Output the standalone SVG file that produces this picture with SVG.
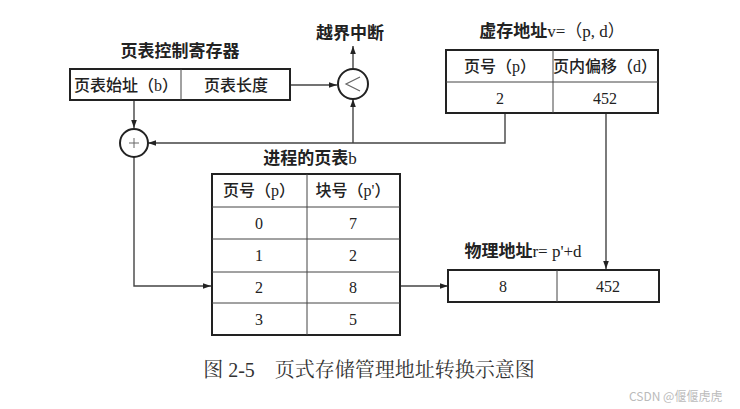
<svg xmlns="http://www.w3.org/2000/svg" width="740" height="409" viewBox="0 0 740 409">
<defs>
<marker id="ah" viewBox="0 0 10 10" refX="10" refY="5" markerWidth="8" markerHeight="8" markerUnits="userSpaceOnUse" orient="auto">
<path d="M0,1.5 L10,5 L0,8.5 Z" fill="#222"/>
</marker>
<style>
.box{fill:#fff;stroke:#222;stroke-width:2}
.in{stroke:#444;stroke-width:1;fill:none}
.cn{stroke:#444;stroke-width:1.4;fill:none}
.ci{fill:#fff;stroke:#222;stroke-width:2}
.t{font-family:"Liberation Serif","Noto Sans CJK SC",serif;font-size:16px;fill:#222;text-anchor:middle;font-weight:500}
.n{font-family:"Liberation Serif",serif;font-size:16px;fill:#222;text-anchor:middle}
.h{font-family:"Liberation Serif","Noto Sans CJK SC",serif;font-size:17px;fill:#222;text-anchor:middle;font-weight:bold}
.cap{font-family:"Liberation Serif","Noto Serif CJK SC","Noto Sans CJK SC",serif;font-size:20px;fill:#333;text-anchor:middle}
.wm{font-family:"Noto Sans CJK SC",sans-serif;font-size:12px;fill:#bbb}
</style>
</defs>
<rect width="740" height="409" fill="#fff"/>

<g id="connectors">
<path class="cn" d="M290,85 H337" marker-end="url(#ah)"/>
<path class="cn" d="M353,68 V46" marker-end="url(#ah)"/>
<path class="cn" d="M134,100 V128" marker-end="url(#ah)"/>
<path class="cn" d="M505,113 V143 H148" marker-end="url(#ah)"/>
<path class="cn" d="M353,143 V99" marker-end="url(#ah)"/>
<path class="cn" d="M134,157 V286 H211" marker-end="url(#ah)"/>
<path class="cn" d="M400,286 H448" marker-end="url(#ah)"/>
<path class="cn" d="M606,113 V269" marker-end="url(#ah)"/>
</g>

<g id="ptr">
<text class="h" x="180" y="57">页表控制寄存器</text>
<rect class="box" x="70" y="69" width="220" height="31"/>
<line class="in" x1="181" y1="69" x2="181" y2="100"/>
<text class="t" x="126" y="91">页表始址（b）</text>
<text class="t" x="236" y="91">页表长度</text>
</g>

<g id="compare">
<circle class="ci" cx="353" cy="84" r="15"/>
<path d="M360,77 L346,84 L360,91" fill="none" stroke="#666" stroke-width="1.2"/>
<text class="h" x="350" y="39">越界中断</text>
</g>

<g id="adder">
<circle class="ci" cx="134" cy="143" r="14"/>
<path d="M134,138 V148 M129,143 H139" stroke="#666" stroke-width="1"/>
</g>

<g id="vaddr">
<text class="h" x="552" y="37">虚存地址<tspan font-weight="normal">v=（p, d）</tspan></text>
<rect class="box" x="446" y="50" width="212" height="63"/>
<line class="in" x1="446" y1="82" x2="658" y2="82"/>
<line class="in" x1="553" y1="50" x2="553" y2="113"/>
<text class="t" x="500" y="72">页号（p）</text>
<text class="t" x="605" y="72">页内偏移（d）</text>
<text class="n" x="500" y="104">2</text>
<text class="n" x="605" y="104">452</text>
</g>

<g id="pagetable">
<text class="h" x="310" y="164">进程的页表<tspan font-weight="normal">b</tspan></text>
<rect class="box" x="212" y="174" width="188" height="161"/>
<line class="in" x1="307" y1="174" x2="307" y2="335"/>
<line class="in" x1="212" y1="207" x2="400" y2="207"/>
<line class="in" x1="212" y1="239" x2="400" y2="239"/>
<line class="in" x1="212" y1="272" x2="400" y2="272"/>
<line class="in" x1="212" y1="303" x2="400" y2="303"/>
<text class="t" x="259" y="196">页号（p）</text>
<text class="t" x="353" y="196">块号（p'）</text>
<text class="n" x="259" y="229">0</text><text class="n" x="353" y="229">7</text>
<text class="n" x="259" y="261">1</text><text class="n" x="353" y="261">2</text>
<text class="n" x="259" y="293">2</text><text class="n" x="353" y="293">8</text>
<text class="n" x="259" y="325">3</text><text class="n" x="353" y="325">5</text>
</g>

<g id="paddr">
<text class="h" x="523" y="257">物理地址<tspan font-weight="normal">r= p'+d</tspan></text>
<rect class="box" x="448" y="270" width="211" height="32"/>
<line class="in" x1="557" y1="270" x2="557" y2="302"/>
<text class="n" x="503" y="292">8</text>
<text class="n" x="608" y="292">452</text>
</g>

<text class="cap" x="369" y="377">图 2-5　页式存储管理地址转换示意图</text>
<text class="wm" x="629" y="401">CSDN @偃偃虎虎</text>
</svg>
